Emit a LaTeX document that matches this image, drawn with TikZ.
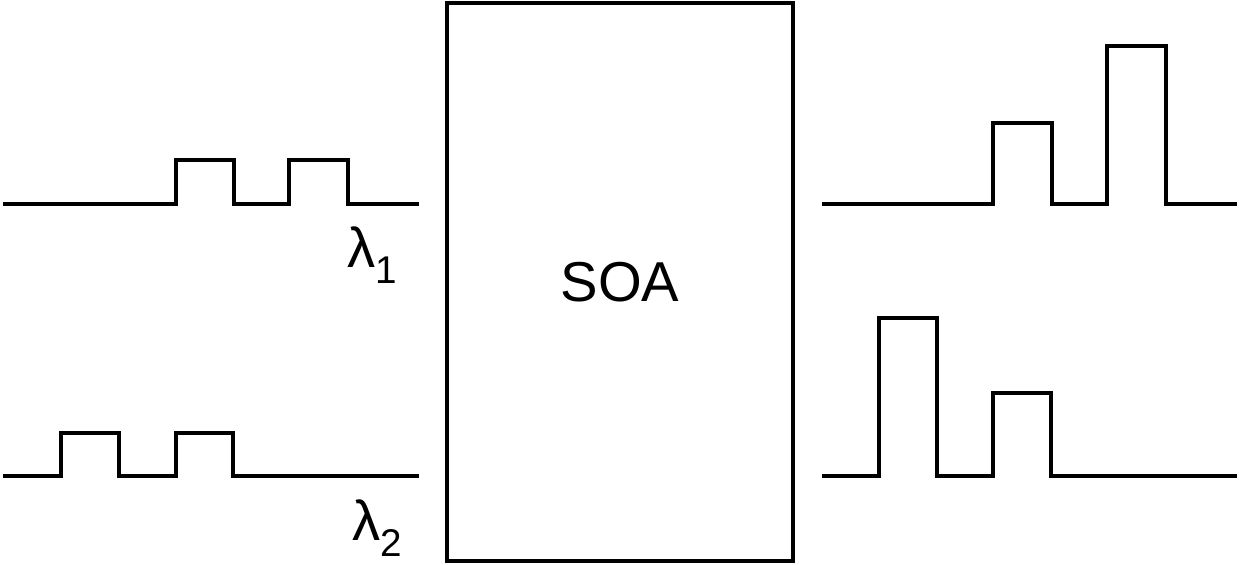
\documentclass[tikz,border=0pt]{standalone}
\usepackage{fontspec}
\setmainfont{Liberation Sans}
\usetikzlibrary{positioning}
\tikzset{
  signal/.style={
    line width=2pt,
    line join=miter,
    draw=black
  },
  amplifier/.style={
    draw=black,
    line width=2pt,
    minimum width=6.92cm,
    minimum height=11.16cm,
    inner sep=0pt,
    font=\fontsize{32}{32}\selectfont
  },
  wavelabel/.style={
    inner sep=0pt,
    font=\fontsize{32}{32}\selectfont
  }
}
\newcommand{\lam}[1]{λ\raisebox{-0.28em}{\fontsize{22}{22}\selectfont #1}}

\begin{document}
\begin{tikzpicture}[x=0.02cm, y=-0.02cm]
  \useasboundingbox (0,0) rectangle (1239,564);

  % the amplifier
  \node[amplifier] (soa) at (620,282) {SOA};

  % input channels
  \draw[signal] (3,204) -- (176,204) -- (176,160) -- (234,160) -- (234,204)
    -- (289,204) -- (289,160) -- (348,160) -- (348,204) -- (419,204);
  \draw[signal] (3,476) -- (61,476) -- (61,433) -- (119,433) -- (119,476)
    -- (176,476) -- (176,433) -- (233,433) -- (233,476) -- (419,476);

  \node[wavelabel] (lam1) at (372,255) {\lam{1}};
  \node[wavelabel] (lam2) at (377,528) {\lam{2}};

  % output channels
  \draw[signal] (822,204) -- (993,204) -- (993,123) -- (1052,123) -- (1052,204)
    -- (1107,204) -- (1107,46) -- (1166,46) -- (1166,204) -- (1237,204);
  \draw[signal] (822,476) -- (879,476) -- (879,318) -- (937,318) -- (937,476)
    -- (993,476) -- (993,393) -- (1051,393) -- (1051,476) -- (1237,476);
\end{tikzpicture}
\end{document}
